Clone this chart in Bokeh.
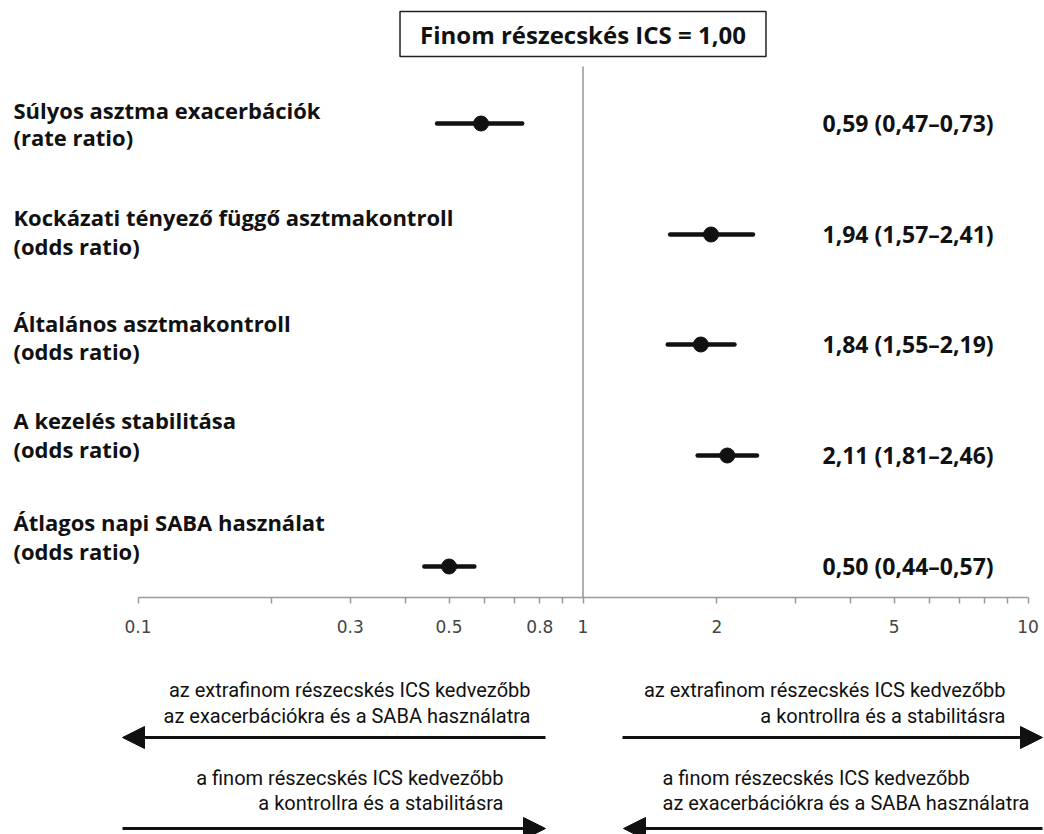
from bokeh.plotting import figure
from bokeh.models import Range1d, FixedTicker, Label, Arrow, NormalHead, ColumnDataSource
from bokeh.core.properties import value
from bokeh.embed import file_html
from bokeh.resources import INLINE

# ---------------- data ----------------
outcomes = [
    "Súlyos asztma exacerbációk",
    "Kockázati tényező függő asztmakontroll",
    "Általános asztmakontroll",
    "A kezelés stabilitása",
    "Átlagos napi SABA használat",
]
measures = ["(rate ratio)", "(odds ratio)", "(odds ratio)", "(odds ratio)", "(odds ratio)"]
estimate = [0.59, 1.94, 1.84, 2.11, 0.50]
ci_low = [0.47, 1.57, 1.55, 1.81, 0.44]
ci_high = [0.73, 2.41, 2.19, 2.46, 0.57]
reference_value = 1
title_text = "Finom részecskés ICS = 1,00"
tick_values = [0.1, 0.2, 0.3, 0.4, 0.5, 0.6, 0.7, 0.8, 0.9, 1, 2, 3, 4, 5, 6, 7, 8, 9, 10]
tick_labels = {0.1: "0.1", 0.3: "0.3", 0.5: "0.5", 0.8: "0.8", 1: "1", 2: "2", 5: "5", 10: "10"}
note_extra_left = ["az extrafinom részecskés ICS kedvezőbb", "az exacerbációkra és a SABA használatra"]
note_extra_right = ["az extrafinom részecskés ICS kedvezőbb", "a kontrollra és a stabilitásra"]
note_fine_left = ["a finom részecskés ICS kedvezőbb", "a kontrollra és a stabilitásra"]
note_fine_right = ["a finom részecskés ICS kedvezőbb", "az exacerbációkra és a SABA használatra"]

value_text = [
    ("%.2f (%.2f–%.2f)" % (e, l, h)).replace(".", ",")
    for e, l, h in zip(estimate, ci_low, ci_high)
]

# ---------------- layout (pixels) ----------------
W, H = 1044, 834
X1_PX = 582.5      # pixel position of x = 1
DEC_PX = 445.0     # pixels per decade
AXIS_Y = 597
ROW_Y = [123, 234, 344, 455, 566]
LABEL_BASE = [(109, 136), (216, 245), (322, 350), (419, 448), (521, 550)]


def px2x(px):
    return 10 ** ((px - X1_PX) / DEC_PX)


BOLD_FONT = "Open Sans"
NOTE_FONT = "Roboto"
INK = "#111111"

p = figure(
    width=W, height=H,
    x_axis_type="log",
    x_range=Range1d(px2x(0), px2x(W)),
    y_range=Range1d(H, 0),
    y_axis_location=None,
    toolbar_location=None,
    output_backend="svg",
    min_border=0,
)
p.outline_line_color = None
p.xgrid.grid_line_color = None
p.ygrid.grid_line_color = None
p.background_fill_color = "white"
p.border_fill_color = "white"

# axis
ax = p.xaxis[0]
ax.fixed_location = AXIS_Y
ax.bounds = (0.1, 10)
ax.ticker = FixedTicker(ticks=tick_values, minor_ticks=[])
ax.major_label_overrides = {t: tick_labels.get(t, "") for t in tick_values}
ax.axis_line_color = "#9a9a9a"
ax.axis_line_width = 1.5
ax.major_tick_line_color = "#9a9a9a"
ax.major_tick_line_width = 1.5
ax.major_tick_in = 0
ax.major_tick_out = 6
ax.minor_tick_line_color = None
ax.major_label_text_font = "DejaVu Sans"
ax.major_label_text_font_size = "17px"
ax.major_label_text_color = "#444444"
ax.major_label_standoff = 16

# reference line at 1
p.segment(x0=[reference_value], y0=[66], x1=[reference_value], y1=[AXIS_Y],
          line_color="#b0b0b0", line_width=2)

src = ColumnDataSource(dict(
    est=estimate, lo=ci_low, hi=ci_high, y=ROW_Y,
    vy=[y - 1 for y in ROW_Y],
    vx=[px2x(822)] * len(ROW_Y),
    lx=[px2x(13)] * len(ROW_Y),
    l1y=[b[0] for b in LABEL_BASE], l2y=[b[1] for b in LABEL_BASE],
    outcome=outcomes, measure=measures, vtext=value_text,
))

p.segment(x0="lo", y0="y", x1="hi", y1="y", source=src,
          line_color=INK, line_width=4.5, line_cap="round")
p.scatter(x="est", y="y", source=src, size=15, fill_color=INK, line_color=INK)

common = dict(text_font=value(BOLD_FONT), text_font_style="bold",
              text_color=INK, text_baseline="alphabetic", source=src)
p.text(x="lx", y="l1y", text="outcome", text_align="left", text_font_size="22px", **common)
p.text(x="lx", y="l2y", text="measure", text_align="left", text_font_size="22px", **common)
p.text(x="vx", y="vy", text="vtext", text_align="left", text_font_size="23px", **common)

# title box
p.add_layout(Label(
    x=reference_value, y=33.5, text=title_text,
    text_align="center", text_baseline="middle",
    text_font=BOLD_FONT, text_font_style="bold", text_font_size="24px", text_color=INK,
    border_line_color="#222222", border_line_width=1.5,
    background_fill_color="white",
    padding=dict(left=20, right=20, top=6, bottom=6),
))


# bottom notes and arrows
def note(lines, px, align, baselines):
    for t, b in zip(lines, baselines):
        p.add_layout(Label(x=px2x(px), y=b, text=t, text_align=align,
                           text_baseline="alphabetic", text_font=NOTE_FONT,
                           text_font_size="20px", text_color=INK))


note(note_extra_left, 530, "right", (689, 715))
note(note_extra_right, 1005, "right", (689, 715))
note(note_fine_left, 503, "right", (777, 802))
note(note_fine_right, 662, "left", (777, 802))


def arrow(px_start, px_end, y):
    p.add_layout(Arrow(
        end=NormalHead(size=22, fill_color=INK, line_color=INK, line_width=1),
        x_start=px2x(px_start), y_start=y, x_end=px2x(px_end), y_end=y,
        line_color=INK, line_width=3,
    ))


arrow(545, 122, 737)
arrow(622, 1042, 737)
arrow(122, 545, 828)
arrow(1042, 623, 828)

open("out.html", "w").write(file_html(p, INLINE))
